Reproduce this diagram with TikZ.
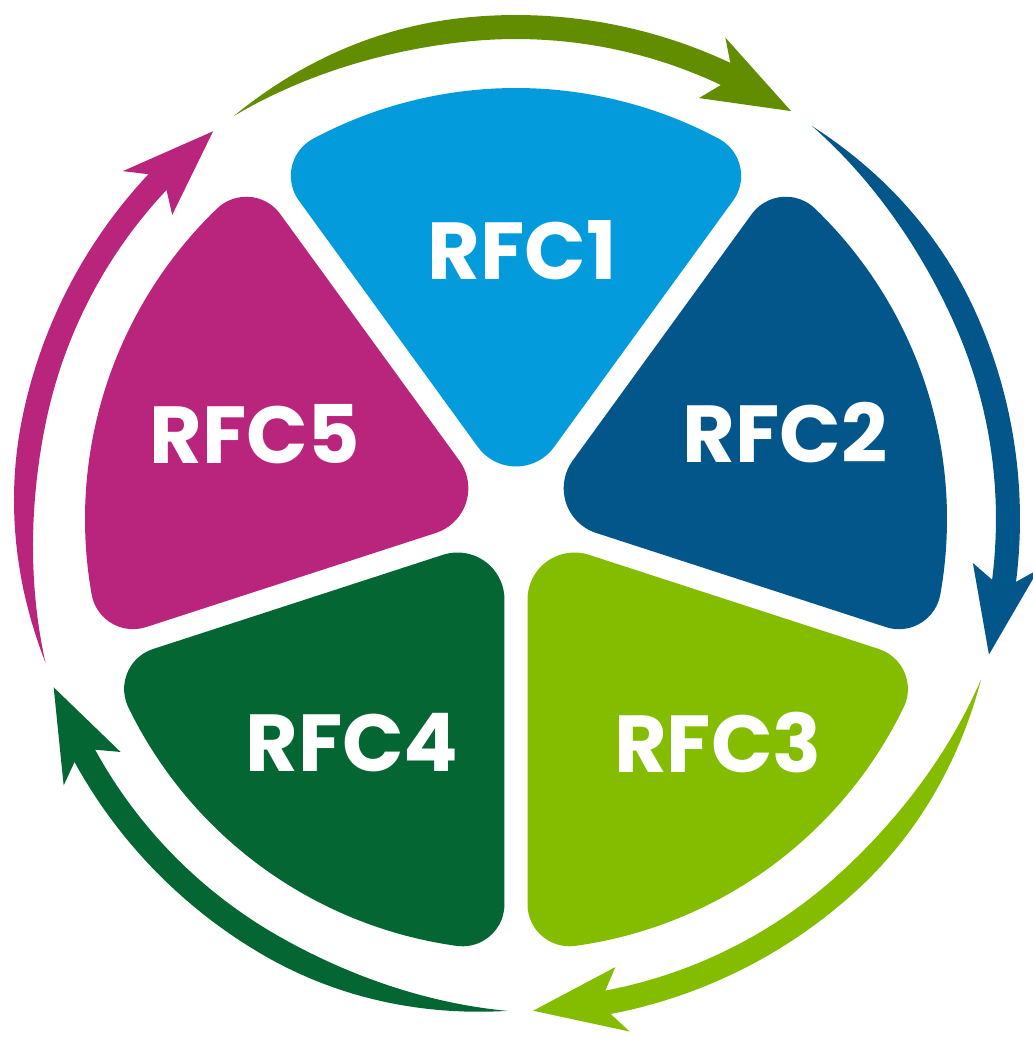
\documentclass[tikz,border=0pt]{standalone}
\usepackage{fontspec}
\setsansfont{Poppins}
\usetikzlibrary{calc}

\definecolor{rfcblue}{HTML}{039BDC}
\definecolor{rfcnavy}{HTML}{02568A}
\definecolor{rfclime}{HTML}{84BC00}
\definecolor{rfcforest}{HTML}{036633}
\definecolor{rfcplum}{HTML}{B9257C}
\definecolor{rfcolive}{HTML}{638D00}

\begin{document}
\begin{tikzpicture}[
  rfclabel/.style={text=white,inner sep=0pt,font=\sffamily\bfseries\fontsize{23}{23}\selectfont},
  declare function={hw(\ang,\tl)=0.12*sin(90*min(1,2.4*(\tl-\ang)/69));}]
\useasboundingbox (-5.16,-5.23) rectangle (5.16,5.19);
% sector sizes: outer radius, half gap, tip and corner rounding
\def\R{4.31} \def\g{0.115} \def\rt{0.47} \def\ro{0.42} \def\rr{4.92}
\pgfmathsetmacro\Dt{(\g+\rt)/sin(36)}
\pgfmathsetmacro\rc{\R-\ro}
\pgfmathsetmacro\al{36-asin((\g+\ro)/\rc)}
% Sectors
\foreach \a/\c in {90/rfcblue, 18/rfcnavy, -54/rfclime, -126/rfcforest, 162/rfcplum}
  \fill[\c,rotate=\a] ({\Dt+\rt*cos(126)},{\rt*sin(126)})
    -- ({\rc*cos(\al)+\ro*cos(126)},{\rc*sin(\al)+\ro*sin(126)})
    arc[start angle=126,end angle=\al,radius=\ro]
    arc[start angle=\al,end angle=-\al,radius=\R]
    arc[start angle=-\al,end angle=-126,radius=\ro]
    -- ({\Dt+\rt*cos(126)},{-\rt*sin(126)})
    arc[start angle=234,end angle=126,radius=\rt] -- cycle;
% Arrows round the ring
\foreach \tail/\c in {125/rfcolive, 53/rfcnavy, -19/rfclime, -91/rfcforest, -163/rfcplum} {
  \pgfmathsetmacro\tip{\tail-69}
  \pgfmathsetmacro\stop{\tip+6}
  \fill[\c] plot[domain=\tail:\stop,samples=50] (\x:{\rr+hw(\x,\tail)})
    -- plot[domain=\stop:\tail,samples=50] (\x:{\rr-hw(\x,\tail)}) -- cycle;
  \fill[\c] (\tip:\rr) -- ({\tip+10.5}:{\rr+0.33}) -- ({\tip+7.8}:\rr)
    -- ({\tip+10.5}:{\rr-0.33}) -- cycle;
}
% Labels
\node[rfclabel] (rfc1) at (0.06,2.69) {RFC1};
\node[rfclabel] (rfc2) at (2.69,0.86) {RFC2};
\node[rfclabel] (rfc3) at (2.02,-2.24) {RFC3};
\node[rfclabel] (rfc4) at (-1.64,-2.24) {RFC4};
\node[rfclabel] (rfc5) at (-2.61,0.85) {RFC5};
\end{tikzpicture}
\end{document}
